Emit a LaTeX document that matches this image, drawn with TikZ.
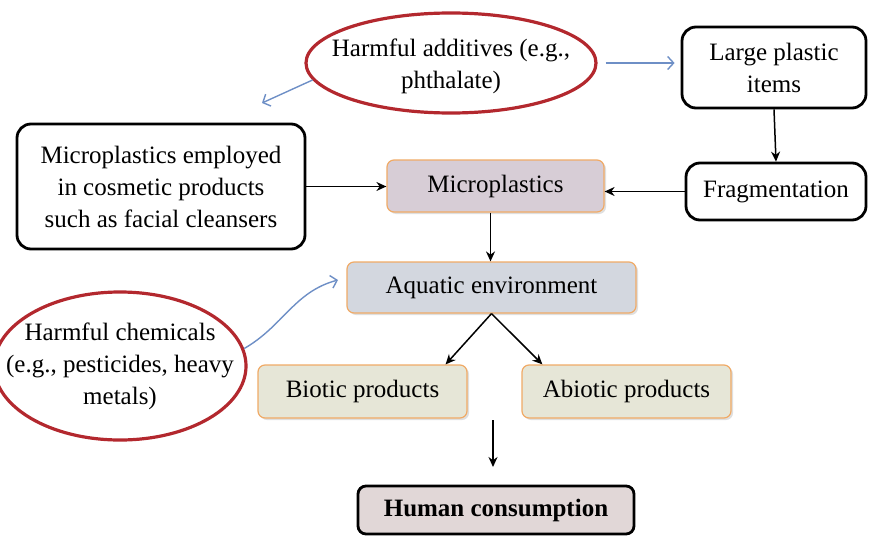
\documentclass[tikz,border=0pt]{standalone}
\usepackage{fontspec}
\setmainfont{Liberation Serif}
\usepackage{tikz}
\usetikzlibrary{shapes.geometric,arrows.meta,shadows}

\definecolor{ovalred}{HTML}{B3282E}
\definecolor{linkblue}{HTML}{6E8FC6}
\definecolor{boxorange}{HTML}{F0AA66}
\definecolor{microfill}{HTML}{D7CDD6}
\definecolor{aquafill}{HTML}{D3D7DF}
\definecolor{prodfill}{HTML}{E6E6D7}
\definecolor{humanfill}{HTML}{E1D7D7}

\begin{document}
\begin{tikzpicture}[x=1pt,y=-1pt,
    font=\fontsize{25}{32}\selectfont,
    oval/.style={ellipse,draw=ovalred,line width=3.2pt,inner sep=0pt},
    blackbox/.style={draw,rounded corners=14pt,line width=2.8pt,align=center},
    softbox/.style={draw=boxorange,rounded corners=7pt,line width=1.2pt,align=center,
      drop shadow={shadow xshift=2pt,shadow yshift=-2pt,opacity=0.25,fill=gray}},
    arr/.style={-{Stealth[length=10pt,width=9pt]},line width=1.5pt},
    bluearr/.style={-{Straight Barb[length=6pt,width=13pt]},draw=linkblue,line width=1.4pt}]
  \useasboundingbox (0,0) rectangle (869,535);

  % sources
  \node[oval,minimum width=290,minimum height=100,
    label={[align=center,yshift=-3pt]center:{Harmful additives (e.g.,\\phthalate)}}] (additives) at (451,63) {};
  \node[oval,minimum width=252,minimum height=148,
    label={[align=center]center:{Harmful chemicals\\(e.g., pesticides, heavy\\metals)}}] (chemicals) at (120,366) {};
  \node[blackbox,minimum width=184,minimum height=81] (large) at (774,67.5)
    {Large plastic\\items};
  \node[blackbox,minimum width=180,minimum height=57] (frag) at (776,191.5)
    {Fragmentation};
  \node[blackbox,minimum width=288,minimum height=125] (cosmetic) at (161,186.5)
    {Microplastics employed\\in cosmetic products\\such as facial cleansers};

  % flow
  \node[softbox,fill=microfill,minimum width=217,minimum height=52] (micro) at (495.5,186)
    {Microplastics};
  \node[softbox,fill=aquafill,minimum width=289,minimum height=51] (aquatic) at (491.5,287.5)
    {Aquatic environment};
  \node[softbox,fill=prodfill,minimum width=209,minimum height=53] (biotic) at (362.5,391.5)
    {Biotic products};
  \node[softbox,fill=prodfill,minimum width=209,minimum height=53] (abiotic) at (626.5,391.5)
    {Abiotic products};
  \node[blackbox,fill=humanfill,rounded corners=8pt,minimum width=276,minimum height=48] (human) at (496,510)
    {\bfseries Human consumption};

  \coordinate (addend) at (262,103);
  \coordinate (chemend) at (338,280);
  \coordinate (humtop) at (493,420);
  \coordinate (humbot) at (493,467);

  \draw[bluearr] (additives.187) -- (addend);
  \draw[bluearr,shorten <=8pt,shorten >=6pt] (additives.east) -- (additives.east -| large.west);
  \draw[bluearr] (chemicals.8) to[out=30,in=195] (chemend);

  \draw[arr] (large.south) -- (frag.north);
  \draw[arr] (frag.west) -- (micro.east |- frag.west);
  \draw[arr] (cosmetic.east) -- (micro.west |- cosmetic.east);
  \draw[arr] ([xshift=-5pt]micro.south) -- ([xshift=-1pt]aquatic.north);
  \draw[arr] (aquatic.south) -- ([xshift=-22pt]biotic.north east);
  \draw[arr] (aquatic.south) -- ([xshift=21pt]abiotic.north west);
  \draw[arr] (humtop) -- (humbot);
\end{tikzpicture}
\end{document}
